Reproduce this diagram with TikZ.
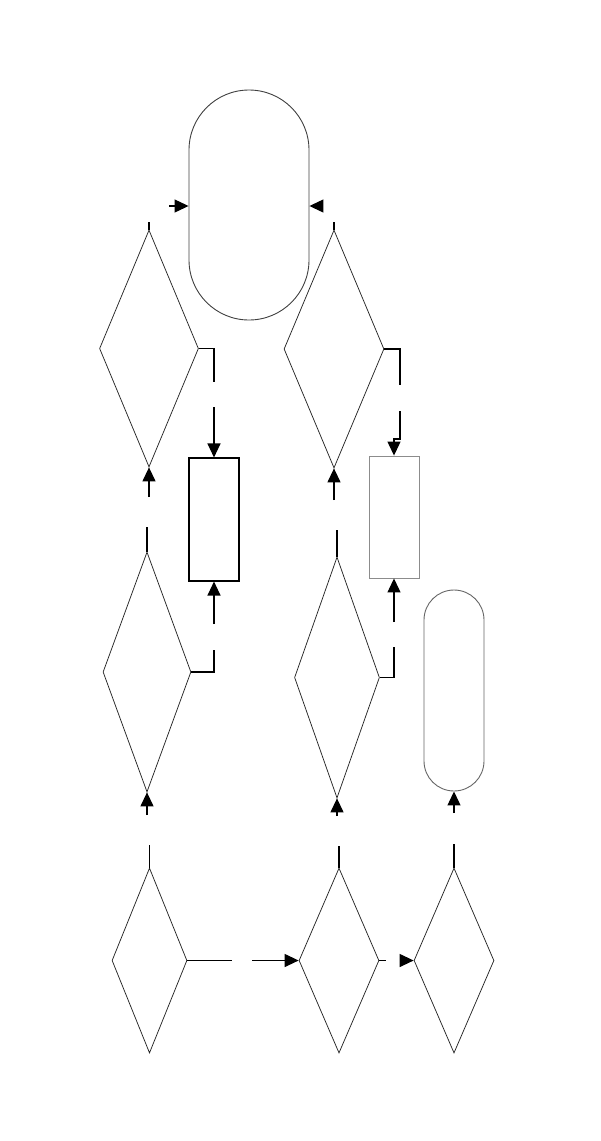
\documentclass[tikz,border=0pt]{standalone}
\usetikzlibrary{shapes.geometric,arrows.meta}
\begin{document}
\begin{tikzpicture}[x=1pt,y=-1pt,
  dec/.style={diamond,draw=black!85,line width=0.75pt,inner sep=0pt,aspect=1},
  term/.style={rectangle,draw=black!75,line width=0.9pt,inner sep=0pt},
  proc/.style={rectangle,draw=black,line width=1.1pt,inner sep=0pt},
  procg/.style={rectangle,draw=black!45,line width=0.9pt,inner sep=0pt},
  con/.style={draw=black,line width=1.2pt},
  arr/.style={con,-{Triangle[length=14pt,width=13pt]}}]
\useasboundingbox (0,0) rectangle (601,1141);
% terminals
\node[term,rounded corners=60pt,minimum width=120pt,minimum height=230pt] (T1) at (249,205) {};
\node[term,draw=black!60,rounded corners=30pt,minimum width=60pt,minimum height=201pt] (T2) at (454,690.5) {};
% processes
\node[proc,minimum width=50pt,minimum height=123pt] (R1) at (214,519.5) {};
\node[procg,minimum width=50pt,minimum height=122pt] (R2) at (394,517) {};
% decisions
\node[dec,minimum width=99pt,minimum height=237pt] (D1) at (149,348.5) {};
\node[dec,minimum width=88pt,minimum height=240pt] (D2) at (147,672) {};
\node[dec,minimum width=75pt,minimum height=185pt] (D3) at (149.5,960.5) {};
\node[dec,minimum width=80pt,minimum height=185pt] (D4) at (339,960.5) {};
\node[dec,minimum width=80pt,minimum height=185pt] (D5) at (454,960.5) {};
\node[dec,minimum width=100pt,minimum height=238pt] (D6) at (334,349) {};
\node[dec,minimum width=85pt,minimum height=241pt] (D7) at (337,677.5) {};
% free ends
\coordinate (a1) at (169,206);
\coordinate (a2) at (322,206);
\coordinate (s1) at (149,222);
\coordinate (s6) at (334,222);
\coordinate (g1a) at (214,382);
\coordinate (g1b) at (214,407);
\coordinate (u1) at (149,497);
\coordinate (t2) at (147,527);
\coordinate (g2a) at (214,650);
\coordinate (g2b) at (214,624);
\coordinate (u2) at (147,815);
\coordinate (t3) at (149.5,845);
\coordinate (g3a) at (232,960.5);
\coordinate (g3b) at (252,960.5);
\coordinate (t4) at (339,846);
\coordinate (g4a) at (386,960.5);
\coordinate (g4b) at (400,960.5);
\coordinate (t5) at (454,844);
\coordinate (g6a) at (400,385);
\coordinate (g6b) at (400,411);
\coordinate (k6) at (400,439);
\coordinate (u6) at (334,500);
\coordinate (t7) at (337,530);
\coordinate (g7a) at (394,647);
\coordinate (g7b) at (394,622);
\coordinate (u7) at (337,816);
\coordinate (u8) at (454,813);
% connectors
\draw[arr] (a1) -- (a1 -| T1.west);
\draw[arr] (a2) -- (a2 -| T1.east);
\draw[con] (s1) -- (D1.north);
\draw[con] (s6) -- (D6.north);
\draw[con] (D1.east) -| (g1a);
\draw[arr] (g1b) -- (R1.north);
\draw[arr] (u1) -- (D1.south);
\draw[con] (t2) -- (D2.north);
\draw[con] (D2.east) -| (g2a);
\draw[arr] (g2b) -- (R1.south);
\draw[arr] (u2) -- (D2.south);
\draw[con] (t3) -- (D3.north);
\draw[con] (D3.east) -- (g3a);
\draw[arr] (g3b) -- (D4.west);
\draw[con] (t4) -- (D4.north);
\draw[con] (D4.east) -- (g4a);
\draw[arr] (g4b) -- (D5.west);
\draw[con] (t5) -- (D5.north);
\draw[con] (D6.east) -| (g6a);
\draw[arr] (g6b) -- (k6) -| (R2.north);
\draw[arr] (u6) -- (D6.south);
\draw[con] (t7) -- (D7.north);
\draw[con] (D7.east) -| (g7a);
\draw[arr] (g7b) -- (R2.south);
\draw[arr] (u7) -- (D7.south);
\draw[arr] (u8) -- (T2.south);
\end{tikzpicture}
\end{document}
